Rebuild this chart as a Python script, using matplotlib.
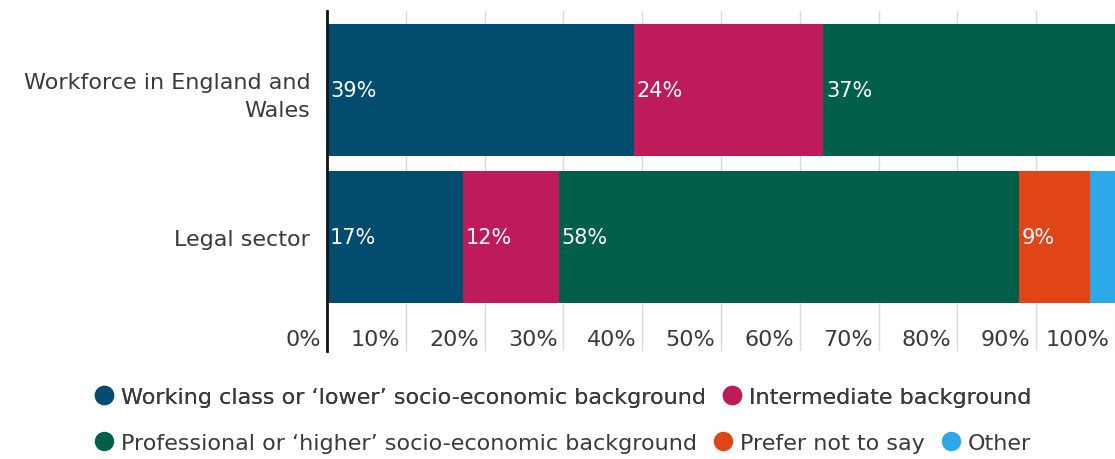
import matplotlib
matplotlib.use("Agg")
import matplotlib.pyplot as plt
from matplotlib.lines import Line2D
import matplotlib.transforms as mtransforms

plt.rcParams['font.family'] = ['DejaVu Sans']

categories = ["Workforce in England and\nWales", "Legal sector"]
series_names = ["Working class or \u2018lower\u2019 socio-economic background",
                "Intermediate background",
                "Professional or \u2018higher\u2019 socio-economic background",
                "Prefer not to say",
                "Other"]
# values per series: [Workforce, Legal]
working = [38.9, 17.2]
intermediate = [24.1, 12.2]
professional = [37.0, 58.4]
prefer_not = [0.0, 9.0]
other = [0.0, 3.2]
bar_labels = [["39%", "17%"], ["24%", "12%"], ["37%", "58%"], ["", "9%"], ["", ""]]
colors = ["#024C70", "#BE1B5B", "#02604A", "#E14517", "#2DA8E9"]
xticks = [0, 10, 20, 30, 40, 50, 60, 70, 80, 90, 100]
xtick_labels = ["0%", "10%", "20%", "30%", "40%", "50%", "60%", "70%", "80%", "90%", "100%"]

series = [working, intermediate, professional, prefer_not, other]

FS = 16
fig = plt.figure(figsize=(11.15, 4.6), dpi=100)
ax = fig.add_axes([327/1115, (460-352)/460, 1 - 327/1115, (352-12)/460])

ypos = [1, 0]
lefts = [0.0, 0.0]
text_color = "#3a3a3a"
offset = mtransforms.ScaledTranslation(3/100, 0, fig.dpi_scale_trans)
for vals, col, labs in zip(series, colors, bar_labels):
    ax.barh(ypos, vals, left=lefts, height=0.898, color=col, zorder=2, linewidth=0)
    for y, v, l, lab in zip(ypos, vals, lefts, labs):
        if lab:
            ax.text(l, y, lab, color="white", fontsize=15, va="center", ha="left",
                    transform=ax.transData + offset, zorder=3)
    lefts = [a + b for a, b in zip(lefts, vals)]

ax.set_xlim(0, 100)
ax.set_ylim(-0.772, 1.537)

# gridlines
for t in xticks[1:]:
    ax.axvline(t, color="#d9d9d9", linewidth=1, zorder=1)

ax.set_xticks([])
ax.set_yticks(ypos)
ax.set_yticklabels(categories, fontsize=FS, color=text_color, multialignment="right",
                   linespacing=1.5)
ax.tick_params(axis="y", length=0, pad=12)

for s in ["top", "right", "bottom"]:
    ax.spines[s].set_visible(False)
ax.spines["left"].set_color("#111111")
ax.spines["left"].set_linewidth(2)
ax.spines["left"].set_zorder(4)

# tick labels placed just left of gridlines
blend = mtransforms.blended_transform_factory(ax.transData, ax.transAxes)
toff = mtransforms.ScaledTranslation(-6/100, 0, fig.dpi_scale_trans)
for t, lab in zip(xticks, xtick_labels):
    ax.text(t, 12/340, lab, fontsize=FS, color=text_color, ha="right", va="center",
            transform=blend + toff)

def handle(c):
    return Line2D([], [], marker="o", linestyle="none", markersize=13,
                  markerfacecolor=c, markeredgecolor=c)

leg1 = fig.legend([handle(c) for c in colors[:2]], series_names[:2],
                  loc="center", bbox_to_anchor=(562/1115, 1 - 398/460), ncol=2,
                  frameon=False, fontsize=FS, handletextpad=0.25, columnspacing=0.7,
                  handlelength=1.0, labelcolor=text_color)
leg2 = fig.legend([handle(c) for c in colors[2:]], series_names[2:],
                  loc="center", bbox_to_anchor=(562/1115, 1 - 444/460), ncol=3,
                  frameon=False, fontsize=FS, handletextpad=0.25, columnspacing=0.7,
                  handlelength=1.0, labelcolor=text_color)
fig.add_artist(leg1)

fig.savefig("out.png", dpi=100)
